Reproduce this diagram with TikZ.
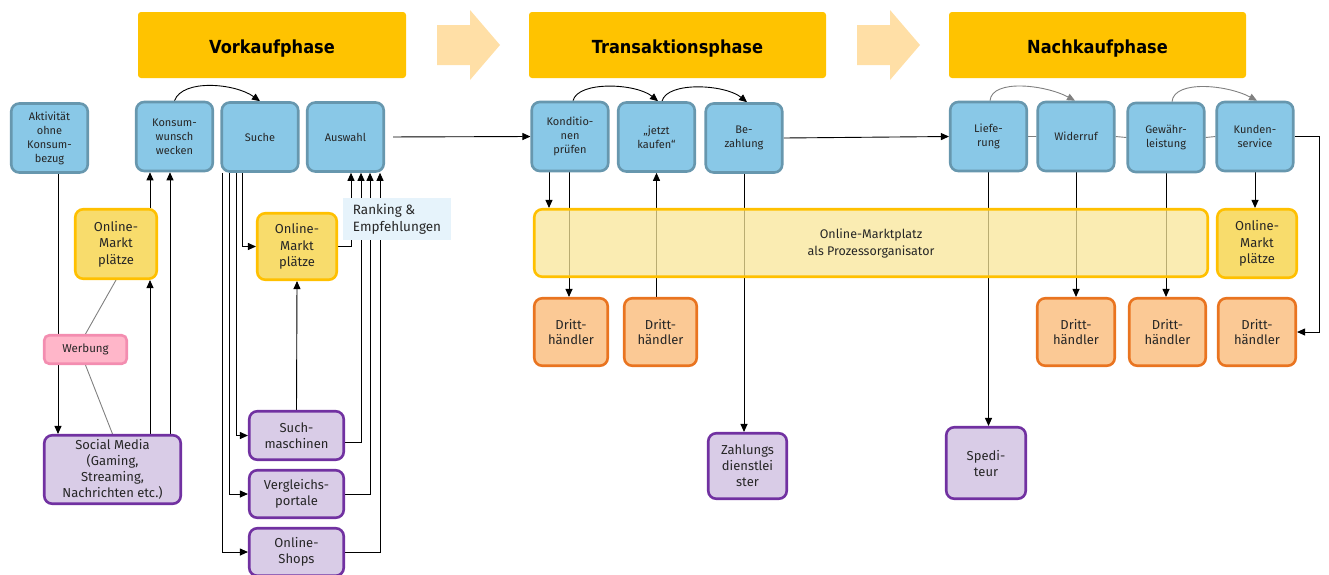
\documentclass[tikz,border=0pt]{standalone}
\usepackage{fontspec}
\setmainfont{Fira Sans}
\newfontfamily\headfont{DejaVu Sans Condensed}
\usetikzlibrary{arrows.meta,backgrounds}

\definecolor{phaseyellow}{HTML}{FFC300}
\definecolor{phasearrow}{HTML}{FFDFA6}
\definecolor{stepfill}{HTML}{89C8E7}
\definecolor{stepline}{HTML}{6797AE}
\definecolor{marketfill}{HTML}{F8DC6C}
\definecolor{marketline}{HTML}{FFC000}
\definecolor{platfill}{HTML}{F8E698}
\definecolor{dealerfill}{HTML}{FBC995}
\definecolor{dealerline}{HTML}{E97420}
\definecolor{servfill}{HTML}{D9CCE7}
\definecolor{servline}{HTML}{7131A1}
\definecolor{adfill}{HTML}{FFB6C9}
\definecolor{adline}{HTML}{F38DB0}
\definecolor{rankfill}{HTML}{E6F3FB}

\tikzset{
  box/.style={rounded corners=8pt, line width=2.6pt, align=center, inner sep=1pt, text=black!85},
  phase/.style={fill=phaseyellow, rounded corners=3pt, minimum height=66pt, text height=21pt, text depth=4pt,
    font=\headfont\bfseries\fontsize{18}{20}\selectfont},
  stepbox/.style={box, fill=stepfill, draw=stepline, minimum width=76.5pt, minimum height=69pt, font=\fontsize{11}{14}\selectfont},
  market/.style={box, fill=marketfill, draw=marketline, font=\fontsize{13}{16.5}\selectfont},
  dealer/.style={box, fill=dealerfill, draw=dealerline, minimum height=67.5pt, font=\fontsize{13}{15.5}\selectfont},
  service/.style={box, fill=servfill, draw=servline, font=\fontsize{13}{16}\selectfont},
  arr/.style={-{Triangle[length=8pt,width=7pt]}, line width=0.9pt, black},
  link/.style={line width=0.9pt, gray},
}

\begin{document}
\begin{tikzpicture}[x=1pt, y=1pt]
\useasboundingbox (0,0) rectangle (1329,-574);

% Phases and the arrows between them
\node[phase, minimum width=268pt] (pre) at (272,-45) {Vorkaufphase};
\node[phase, minimum width=297pt] (trans) at (677.5,-45) {Transaktionsphase};
\node[phase, minimum width=297pt] (post) at (1097.5,-45) {Nachkaufphase};
\foreach \x in {437,857} {
\fill[phasearrow] (\x,-25) -- ++(33,0) -- ++(0,15) -- ++(30,-35) -- ++(-30,-35) -- ++(0,15) -- ++(-33,0) -- cycle;
}

% Process steps
\node[stepbox] (idle) at (49.5,-138) {Aktivität\\ohne\\Konsum-\\bezug};
\node[stepbox] (want) at (174.5,-136.5) {Konsum-\\wunsch\\wecken};
\node[stepbox] (search) at (260,-137) {Suche};
\node[stepbox] (pick) at (345.5,-137) {Auswahl};
\node[stepbox] (cond) at (570,-136.5) {Konditio-\\nen\\prüfen};
\node[stepbox] (buy) at (656.5,-137) {„jetzt\\kaufen“};
\node[stepbox] (pay) at (744,-138) {Be-\\zahlung};
\node[stepbox] (deliv) at (988.5,-136.5) {Liefe-\\rung};
\node[stepbox] (revoke) at (1076,-136.5) {Widerruf};
\node[stepbox] (warr) at (1166,-137.5) {Gewähr-\\leistung};
\node[stepbox] (care) at (1255,-136.5) {Kunden-\\service};

% Marketplaces
\node[market, minimum width=81.5pt, minimum height=69.5pt] (mk1) at (116,-244) {Online-\\Markt\\plätze};
\node[market, minimum width=79.5pt, minimum height=66.5pt] (mk2) at (297,-246.5) {Online-\\Markt\\plätze};
\node[market, minimum width=79.5pt, minimum height=68.5pt] (mk3) at (1257,-243.5) {Online-\\Markt\\plätze};
\node[box, fill=platfill, fill opacity=0.75, text opacity=1, draw=marketline, minimum width=673.5pt, minimum height=67.5pt,
  font=\fontsize{12.5}{17}\selectfont] (plat) at (871,-243) {Online-Marktplatz\\als Prozessorganisator};

% Ranking and advertising
\node[fill=rankfill, minimum width=108pt, minimum height=42pt, align=left, text=black!85,
  font=\fontsize{13.5}{16.5}\selectfont] (rank) at (397,-219) {Ranking \&\\Empfehlungen};
\node[box, rounded corners=5pt, fill=adfill, draw=adline, minimum width=82.5pt, minimum height=28.5pt,
  font=\fontsize{11.5}{13}\selectfont] (ad) at (85.5,-349.5) {Werbung};

% Services
\node[service, minimum width=136.5pt, minimum height=68.5pt] (social) at (112.5,-469.5) {Social Media\\(Gaming,\\Streaming,\\Nachrichten etc.)};
\node[service, minimum width=94.5pt, minimum height=48.5pt] (engine) at (296.5,-435.5) {Such-\\maschinen};
\node[service, minimum width=94.5pt, minimum height=47.5pt] (compare) at (296.5,-494) {Vergleichs-\\portale};
\node[service, minimum width=94.5pt, minimum height=47.5pt] (shops) at (296.5,-552) {Online-\\Shops};
\node[service, minimum width=78.5pt, minimum height=65.5pt] (zpay) at (747.5,-466) {Zahlungs\\dienstlei\\ster};
\node[service, minimum width=79.5pt, minimum height=71.5pt] (ship) at (986,-463) {Spedi-\\teur};

% Third-party sellers
\foreach \x/\w/\n in {571/73.5/d1, 660.5/72.5/d2, 1076/77.5/d3, 1167.5/76.5/d4, 1257/77.5/d5} {
\node[dealer, minimum width=\w pt] (\n) at (\x,-332) {Dritt-\\händler};
}

\begin{scope}[on background layer]
% Vorkaufphase
\draw[arr] ([xshift=8.5pt]idle.south) -- ([xshift=8.5pt]idle.south |- social.north);
\draw[link] (mk1.south) -- (ad.north) (ad.south) -- (social.north);
\draw[arr] ([xshift=37.5pt]social.north) -- ([xshift=37.5pt]social.north |- mk1.south);
\draw[arr] ([xshift=34pt]mk1.north) -- ([xshift=34pt]mk1.north |- want.south);
\draw[arr] ([xshift=57.5pt]social.north) -- ([xshift=57.5pt]social.north |- want.south);
\draw[arr] (want.north) .. controls +(8,22) and +(-25,18) .. (search.north);
\foreach \s/\t in {-18/mk2, -24/engine, -31/compare, -38/shops} {
\draw[arr] ([xshift=\s pt]search.south) |- (\t.west);
}
\draw[arr] (engine.north) -- (mk2.south);
\foreach \s/\t/\y in {5.5/mk2/0, 15.5/engine/-6.5, 24.5/compare/0, 34.5/shops/0} {
\draw[arr] ([yshift=\y pt]\t.east) -| ([xshift=\s pt]pick.south);
}
\draw[arr, shorten <=8pt] (pick.east) -- (cond.west);

% Transaktionsphase
\draw[arr] ([xshift=3pt]cond.north) .. controls +(5,20) and +(-22,18) .. ([xshift=1.5pt]buy.north);
\draw[arr] ([xshift=5.5pt]buy.north) .. controls +(5,20) and +(-22,18) .. ([xshift=3pt]pay.north);
\draw[arr] ([xshift=-21pt]cond.south) -- ([xshift=-21pt]cond.south |- plat.north);
\draw[arr] ([xshift=-1pt]cond.south) -- ([xshift=-1pt]cond.south |- d1.north);
\draw[arr] (buy.south |- d2.north) -- (buy.south);
\draw[arr] (pay.south) -- (pay.south |- zpay.north);
\draw[arr] (pay.east) -- (deliv.west);

% Nachkaufphase
\draw[link] (deliv.east) -- (revoke.west) (revoke.east) -- (warr.west) (warr.east) -- (care.west);
\draw[link, -{Triangle[length=8pt,width=7pt]}] ([xshift=1.5pt]deliv.north) .. controls +(2,22) and +(-30,16) .. ([xshift=-1pt]revoke.north);
\draw[link, -{Triangle[length=8pt,width=7pt]}] ([xshift=6pt]warr.north) .. controls +(2,22) and +(-30,16) .. ([xshift=2pt]care.north);
\draw[arr] (deliv.south) -- (deliv.south |- ship.north);
\draw[arr] (revoke.south) -- (revoke.south |- d3.north);
\draw[arr] (warr.south) -- (warr.south |- d4.north);
\draw[arr] (care.south) -- (care.south |- mk3.north);
\draw[arr] (care.east) -- ++(25,0) |- (d5.east);
\end{scope}

\end{tikzpicture}
\end{document}
